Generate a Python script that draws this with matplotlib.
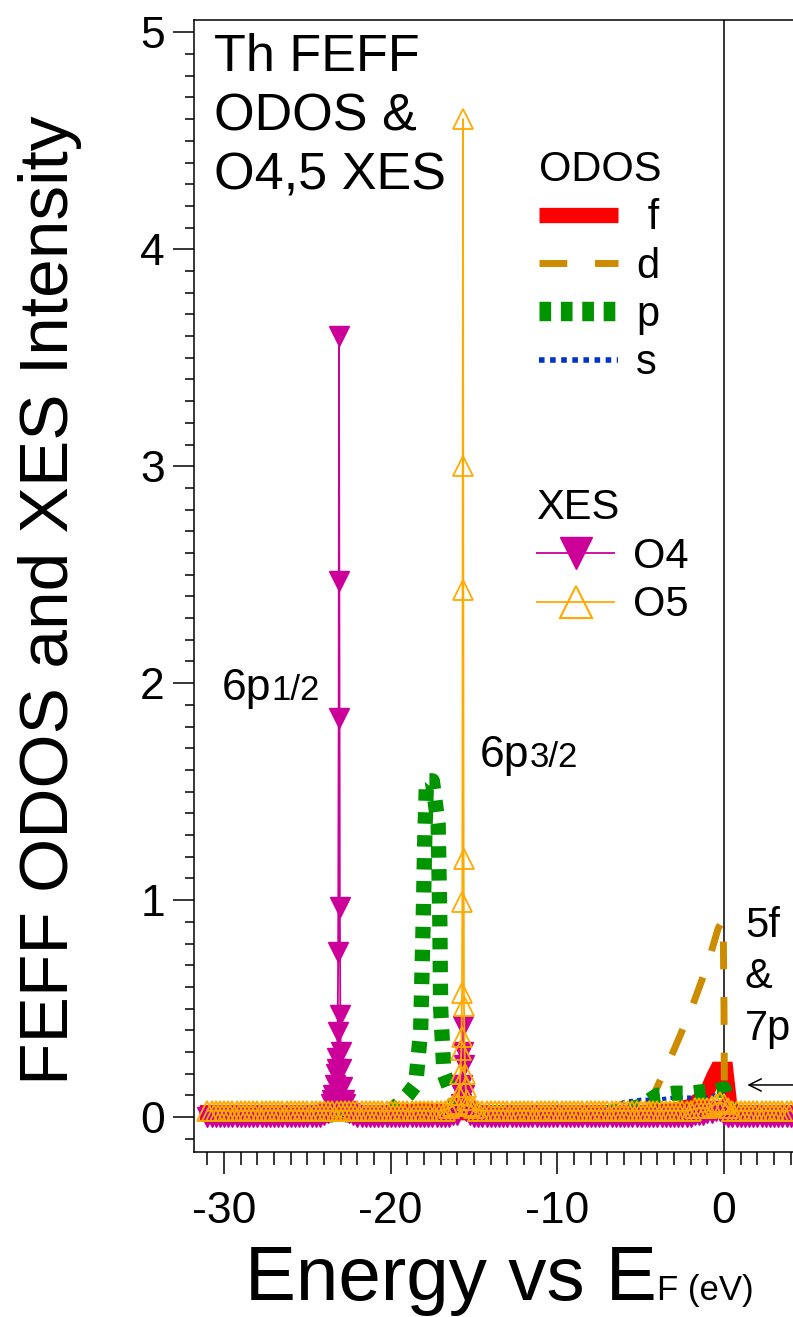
import matplotlib
matplotlib.use('Agg')
import matplotlib.pyplot as plt
from matplotlib.lines import Line2D
from matplotlib.ticker import MultipleLocator

plt.rcParams['font.family'] = ['Liberation Sans', 'DejaVu Sans']
plt.rcParams['axes.unicode_minus'] = False

W, H = 793, 1317

# ---------------- data ----------------
# ODOS f
e_f = [-31, -25, -20, -18, -16, -10, -5, -3, -2, -1.5, -1, -0.6, -0.4, 0.1, 0.35, 0.6, 2, 4]
i_f = [0.02, 0.02, 0.02, 0.03, 0.02, 0.02, 0.02, 0.03, 0.05, 0.08, 0.12, 0.19, 0.22, 0.22, 0.05, 0.02, 0.02, 0.02]
# ODOS d
e_d = [-31, -25, -20, -18, -16, -10, -6, -5, -4.5, -4, -3, -2, -1, -0.35, -0.05, 0.0, 0.03, 0.5, 2, 4]
i_d = [0.01, 0.01, 0.01, 0.02, 0.01, 0.01, 0.01, 0.02, 0.06, 0.14, 0.31, 0.49, 0.70, 0.87, 0.91, 0.50, 0.03, 0.01, 0.01, 0.01]
# ODOS p
e_p = [-31, -25, -21, -20, -19.5, -19.0, -18.5, -18.2, -18.05, -17.95, -17.85, -17.5, -17.15, -17.05,
       -17.0, -16.8, -16.4, -16.0, -15.5, -12, -8, -6, -5, -4, -3, -2, -1, -0.5, 0.0, 0.3, 0.5, 2, 4]
i_p = [0.01, 0.01, 0.01, 0.03, 0.06, 0.10, 0.15, 0.40, 0.90, 1.30, 1.55, 1.55, 1.35, 0.90,
       0.50, 0.20, 0.12, 0.06, 0.03, 0.01, 0.01, 0.03, 0.05, 0.10, 0.11, 0.11, 0.12, 0.12, 0.13, 0.05, 0.01, 0.01, 0.01]
# ODOS s
e_s = [-31, -20, -10, -7, -6.5, -6, -5, -4, -3, -2, -1, -0.5, 0.0, 0.3, 0.6, 4]
i_s = [0.01, 0.01, 0.01, 0.02, 0.05, 0.07, 0.08, 0.08, 0.09, 0.09, 0.09, 0.10, 0.10, 0.04, 0.01, 0.01]

# XES energy grid (measured points, 0.25 eV apart)
e_xes = [-31.00, -30.75, -30.50, -30.25, -30.00, -29.75, -29.50, -29.25,
         -29.00, -28.75, -28.50, -28.25, -28.00, -27.75, -27.50, -27.25,
         -27.00, -26.75, -26.50, -26.25, -26.00, -25.75, -25.50, -25.25,
         -25.00, -24.75, -24.50, -24.25, -24.00, -23.75, -23.50, -23.25,
         -23.00, -22.75, -22.50, -22.25, -22.00, -21.75, -21.50, -21.25,
         -21.00, -20.75, -20.50, -20.25, -20.00, -19.75, -19.50, -19.25,
         -19.00, -18.75, -18.50, -18.25, -18.00, -17.75, -17.50, -17.25,
         -17.00, -16.75, -16.50, -16.25, -16.00, -15.75, -15.50, -15.25,
         -15.00, -14.75, -14.50, -14.25, -14.00, -13.75, -13.50, -13.25,
         -13.00, -12.75, -12.50, -12.25, -12.00, -11.75, -11.50, -11.25,
         -11.00, -10.75, -10.50, -10.25, -10.00, -9.75, -9.50, -9.25,
         -9.00, -8.75, -8.50, -8.25, -8.00, -7.75, -7.50, -7.25,
         -7.00, -6.75, -6.50, -6.25, -6.00, -5.75, -5.50, -5.25,
         -5.00, -4.75, -4.50, -4.25, -4.00, -3.75, -3.50, -3.25,
         -3.00, -2.75, -2.50, -2.25, -2.00, -1.75, -1.50, -1.25,
         -1.00, -0.75, -0.50, -0.25, 0.00, 0.25, 0.50, 0.75,
         1.00, 1.25, 1.50, 1.75, 2.00, 2.25, 2.50, 2.75,
         3.00, 3.25, 3.50, 3.75, 4.00]
# XES O4 intensities on the grid
i_o4_grid = [0.00, 0.00, 0.00, 0.00, 0.00, 0.00, 0.00, 0.00,
             0.00, 0.00, 0.00, 0.00, 0.00, 0.00, 0.00, 0.00,
             0.00, 0.00, 0.00, 0.00, 0.00, 0.00, 0.00, 0.00,
             0.00, 0.00, 0.00, 0.00, 0.01, 0.02, 0.08, 0.22,
             0.30, 0.06, 0.02, 0.01, 0.00, 0.00, 0.00, 0.00,
             0.00, 0.00, 0.00, 0.00, 0.00, 0.00, 0.00, 0.00,
             0.00, 0.00, 0.00, 0.00, 0.00, 0.00, 0.00, 0.00,
             0.00, 0.00, 0.00, 0.01, 0.01, 0.10, 0.03, 0.01,
             0.00, 0.00, 0.00, 0.00, 0.00, 0.00, 0.00, 0.00,
             0.00, 0.00, 0.00, 0.00, 0.00, 0.00, 0.00, 0.00,
             0.00, 0.00, 0.00, 0.00, 0.00, 0.00, 0.00, 0.00,
             0.00, 0.00, 0.00, 0.00, 0.00, 0.00, 0.00, 0.00,
             0.00, 0.00, 0.00, 0.00, 0.00, 0.00, 0.00, 0.00,
             0.00, 0.00, 0.00, 0.00, 0.00, 0.00, 0.00, 0.00,
             0.00, 0.00, 0.00, 0.00, 0.00, 0.01, 0.01, 0.01,
             0.02, 0.02, 0.03, 0.03, 0.01, 0.00, 0.00, 0.00,
             0.00, 0.00, 0.00, 0.00, 0.00, 0.00, 0.00, 0.00,
             0.00, 0.00, 0.00, 0.00, 0.00]
# XES O4 extra points inside the sharp 6p lines
e_o4_peak = [-23.6, -23.45, -23.35, -23.28, -23.22, -23.18, -23.15, -23.12, -23.1, -23.08,
             -23.05, -23.02, -22.98, -22.9, -22.8, -22.6,
             -15.8, -15.72, -15.68, -15.65, -15.62, -15.58]
i_o4_peak = [0.06, 0.10, 0.15, 0.20, 0.27, 0.39, 0.76, 1.84, 3.60, 2.47,
             0.97, 0.47, 0.22, 0.14, 0.08, 0.03,
             0.06, 0.15, 0.30, 0.42, 0.24, 0.10]
# XES O5 intensities on the grid
i_o5_grid = [0.03, 0.03, 0.03, 0.03, 0.03, 0.03, 0.03, 0.03,
             0.03, 0.03, 0.03, 0.03, 0.03, 0.03, 0.03, 0.03,
             0.03, 0.03, 0.03, 0.03, 0.03, 0.03, 0.03, 0.03,
             0.03, 0.03, 0.03, 0.03, 0.03, 0.03, 0.03, 0.03,
             0.03, 0.03, 0.03, 0.03, 0.03, 0.03, 0.03, 0.03,
             0.03, 0.03, 0.03, 0.03, 0.03, 0.03, 0.03, 0.03,
             0.03, 0.03, 0.03, 0.03, 0.03, 0.03, 0.03, 0.03,
             0.03, 0.03, 0.04, 0.05, 0.06, 0.37, 0.14, 0.05,
             0.04, 0.03, 0.03, 0.03, 0.03, 0.03, 0.03, 0.03,
             0.03, 0.03, 0.03, 0.03, 0.03, 0.03, 0.03, 0.03,
             0.03, 0.03, 0.03, 0.03, 0.03, 0.03, 0.03, 0.03,
             0.03, 0.03, 0.03, 0.03, 0.03, 0.03, 0.03, 0.03,
             0.03, 0.03, 0.03, 0.03, 0.03, 0.03, 0.03, 0.03,
             0.03, 0.03, 0.03, 0.03, 0.03, 0.03, 0.03, 0.03,
             0.03, 0.03, 0.03, 0.03, 0.03, 0.04, 0.04, 0.04,
             0.04, 0.05, 0.06, 0.07, 0.06, 0.04, 0.03, 0.03,
             0.03, 0.03, 0.03, 0.03, 0.03, 0.03, 0.03, 0.03,
             0.03, 0.03, 0.03, 0.03, 0.03]
# XES O5 extra points inside the sharp 6p3/2 line
e_o5_peak = [-15.9, -15.82, -15.76, -15.72, -15.7, -15.68, -15.66, -15.64, -15.62, -15.6,
             -15.54, -15.45, -15.4]
i_o5_peak = [0.10, 0.20, 0.31, 0.57, 0.99, 3.00, 4.60, 2.43, 1.19, 0.51,
             0.20, 0.08, 0.05]

x_ticks = [-30, -20, -10, 0]
y_ticks = [0, 1, 2, 3, 4, 5]

C_F = '#FF0000'
C_D = '#CD8C00'
C_P = '#009400'
C_S = '#0033CC'
C_O4 = '#CC0099'
C_O5 = '#FFAA00'


def merge(e1, i1, e2, i2):
    pts = sorted(zip(list(e1) + list(e2), list(i1) + list(i2)))
    return [p[0] for p in pts], [p[1] for p in pts]


e_o4, i_o4 = merge(e_xes, i_o4_grid, e_o4_peak, i_o4_peak)
e_o5, i_o5 = merge(e_xes, i_o5_grid, e_o5_peak, i_o5_peak)

# ---------------- figure ----------------
fig = plt.figure(figsize=(W / 100, H / 100), dpi=100)
ax = fig.add_axes([194 / W, 1 - 1152 / H, 1 - 194 / W, (1152 - 20) / H])
ax.set_xlim(-31.8, 4.14)
ax.set_ylim(-0.161, 5.057)

ax.plot(e_f, i_f, color=C_F, lw=11, solid_joinstyle='miter', zorder=2)
ax.plot(e_d, i_d, color=C_D, lw=5, ls=(0, (4, 4)), zorder=2)
ax.plot(e_s, i_s, color=C_S, lw=3, ls=(0, (1, 1)), zorder=3)
ax.plot(e_p, i_p, color=C_P, lw=11, ls=(0, (0.75, 0.75)), zorder=3)
ax.plot(e_o4, i_o4, color=C_O4, lw=1.3, marker='v', ms=15, mec=C_O4, mfc=C_O4, zorder=4)
ax.plot(e_o5, i_o5, color=C_O5, lw=1.3, marker='^', ms=14, mec=C_O5, mfc='none', mew=1.3, zorder=5)

ax.axvline(0, color='black', lw=1.1, zorder=1)

for s in ['left', 'bottom', 'top']:
    ax.spines[s].set_linewidth(1.1)
ax.spines['right'].set_visible(False)

ax.set_xticks(x_ticks)
ax.set_yticks(y_ticks)
ax.xaxis.set_minor_locator(MultipleLocator(1))
ax.yaxis.set_minor_locator(MultipleLocator(0.1))
ax.tick_params(axis='both', which='both', direction='out', width=1.1, top=False, right=False)
ax.tick_params(axis='x', which='major', length=16, labelsize=32, pad=12)
ax.tick_params(axis='x', which='minor', length=9)
ax.tick_params(axis='y', which='major', length=15, labelsize=32, pad=6)
ax.tick_params(axis='y', which='minor', length=6.5)

# ---------------- legends ----------------
h_odos = [Line2D([], [], color=C_F, lw=11, solid_capstyle='butt'),
          Line2D([], [], color=C_D, lw=5, ls=(0, (4, 4))),
          Line2D([], [], color=C_P, lw=14, ls=(0, (0.6, 0.5))),
          Line2D([], [], color=C_S, lw=4, ls=(0, (1, 1)))]
leg1 = ax.legend(h_odos, [' f', 'd', 'p', 's'], title='ODOS', loc='upper left',
                 bbox_to_anchor=(539 / W, 1 - 150 / H), bbox_transform=fig.transFigure,
                 frameon=False, fontsize=30, title_fontsize=30, handlelength=1.9,
                 handletextpad=0.43, labelspacing=0.2, borderpad=0, borderaxespad=0,
                 alignment='left')
ax.add_artist(leg1)
h_xes = [Line2D([], [], color=C_O4, lw=1.3, marker='v', ms=23, mfc=C_O4, mec=C_O4, solid_capstyle='butt'),
         Line2D([], [], color=C_O5, lw=1.3, marker='^', ms=23, mfc='none', mec=C_O5, mew=1.5, solid_capstyle='butt')]
leg2 = ax.legend(h_xes, ['O4', 'O5'], title='XES', loc='upper left',
                 bbox_to_anchor=(536 / W, 1 - 488 / H), bbox_transform=fig.transFigure,
                 frameon=False, fontsize=30, title_fontsize=30, handlelength=1.9,
                 handletextpad=0.43, labelspacing=0.21, borderpad=0, borderaxespad=0,
                 alignment='left')

# ---------------- texts ----------------
def fpos(x, y):
    return x / W, 1 - y / H

renderer = fig.canvas.get_renderer()

def two_part(x, y, big, small, bs, ss):
    t = fig.text(*fpos(x, y), big, fontsize=bs, va='baseline', ha='left')
    bb = t.get_window_extent(renderer)
    fig.text(bb.x1 / W, 1 - y / H, small, fontsize=ss, va='baseline', ha='left')

fig.text(*fpos(214, 33), 'Th FEFF\nODOS &\nO4,5 XES', fontsize=37.5, va='top', ha='left',
         linespacing=1.27)

two_part(222, 700, '6p', '1/2', 32, 25)
two_part(480, 767, '6p', '3/2', 32, 25)

fig.text(*fpos(745, 937), '5f', fontsize=30, va='baseline', ha='left')
fig.text(*fpos(745, 988), '&', fontsize=30, va='baseline', ha='left')
fig.text(*fpos(745, 1040), '7p', fontsize=30, va='baseline', ha='left')
ax.annotate('', xy=(1.4, 0.148), xytext=(4.3, 0.148), xycoords='data',
            arrowprops=dict(arrowstyle='->', lw=1.1, color='black', mutation_scale=22,
                            shrinkA=0, shrinkB=0), annotation_clip=False)

fig.text(*fpos(50, 600), 'FEFF ODOS and XES Intensity', fontsize=50, rotation=90,
         va='center', ha='center')
two_part(245, 1300, 'Energy vs E', 'F (eV)', 55, 25)

fig.savefig('out.png', dpi=100)
